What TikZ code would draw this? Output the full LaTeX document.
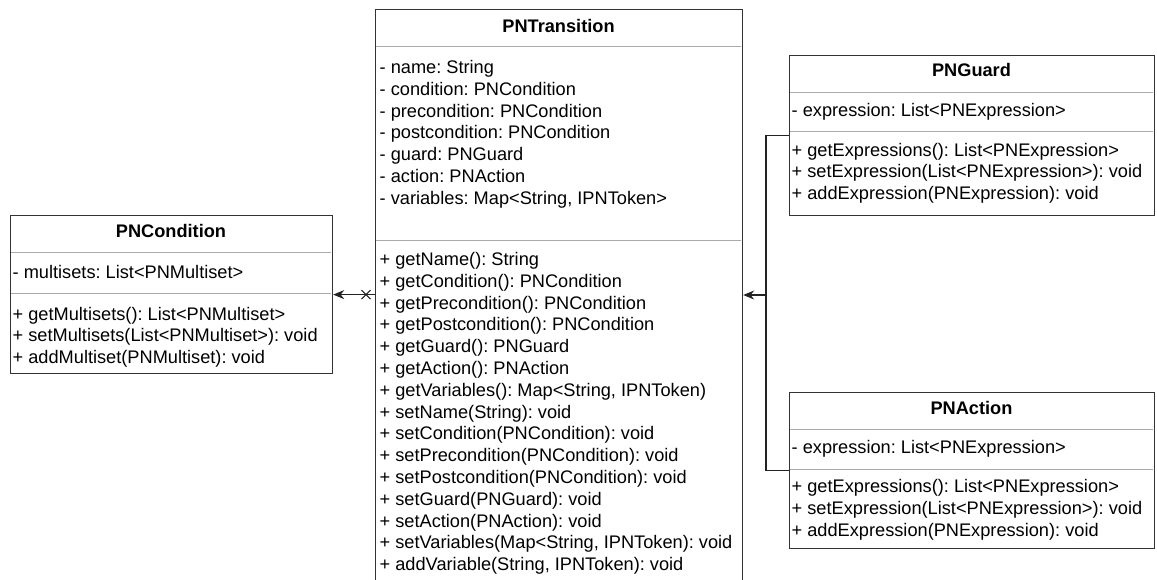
\documentclass[tikz,border=0pt]{standalone}
\usepackage{fontspec}
\setmainfont{Liberation Sans}
\usetikzlibrary{arrows.meta,calc}
\frenchspacing
\definecolor{boxc}{HTML}{333333}
\definecolor{sepc}{HTML}{AAAAAA}
\definecolor{linec}{HTML}{222222}
\tikzset{
  classbox/.style={draw=boxc, line width=1.2pt, fill=white, inner sep=0pt, anchor=north west},
  sepline/.style={draw=sepc, line width=0.9pt},
  ctitle/.style={font=\fontsize{18.2}{21.8}\selectfont\bfseries, anchor=base, inner sep=0pt},
  member/.style={font=\fontsize{18.2}{21.8}\selectfont\frenchspacing, anchor=base west, inner sep=0pt},
  conn/.style={draw=linec, line width=1.2pt},
  tip/.style={-{Stealth[length=11pt,width=9pt]}}
}
\begin{document}
\begin{tikzpicture}[x=1pt,y=-1pt]
\clip (0,0) rectangle (1157,579);
\fill[white] (0,0) rectangle (1157,579);

% PNTransition
\node[classbox, minimum width=367pt, minimum height=580pt] (trans) at (375,9) {};
\draw[sepline] (376,46) -- (741,46);
\draw[sepline] (376,240) -- (741,240);
\node[ctitle] (transT) at (558.5,32) {PNTransition};
\foreach \t [count=\i from 0] in {
  {- name: String},
  {- condition: PNCondition},
  {- precondition: PNCondition},
  {- postcondition: PNCondition},
  {- guard: PNGuard},
  {- action: PNAction},
  {- variables: Map<String, IPNToken>}}
  \node[member] (ta\i) at (379.5,{73.5+21.8*\i}) {\t};
\foreach \t [count=\i from 0] in {
  {+ getName(): String},
  {+ getCondition(): PNCondition},
  {+ getPrecondition(): PNCondition},
  {+ getPostcondition(): PNCondition},
  {+ getGuard(): PNGuard},
  {+ getAction(): PNAction},
  {+ getVariables(): Map<String, IPNToken)},
  {+ setName(String): void},
  {+ setCondition(PNCondition): void},
  {+ setPrecondition(PNCondition): void},
  {+ setPostcondition(PNCondition): void},
  {+ setGuard(PNGuard): void},
  {+ setAction(PNAction): void},
  {+ setVariables(Map<String, IPNToken): void},
  {+ addVariable(String, IPNToken): void}}
  \node[member] (tm\i) at (379.5,{265.5+21.8*\i}) {\t};

% PNCondition
\node[classbox, minimum width=322pt, minimum height=158pt] (cond) at (10,215) {};
\draw[sepline] (11,252) -- (331,252);
\draw[sepline] (11,293) -- (331,293);
\node[ctitle] (condT) at (171,237) {PNCondition};
\node[member] (ca0) at (12.5,278) {- multisets: List<PNMultiset>};
\foreach \t [count=\i from 0] in {
  {+ getMultisets(): List<PNMultiset>},
  {+ setMultisets(List<PNMultiset>): void},
  {+ addMultiset(PNMultiset): void}}
  \node[member] (cm\i) at (12.5,{320+21.8*\i}) {\t};

% PNGuard
\node[classbox, minimum width=365pt, minimum height=160pt] (guard) at (789,55) {};
\draw[sepline] (790,92) -- (1153,92);
\draw[sepline] (790,131) -- (1153,131);
\node[ctitle] (guardT) at (971.5,76) {PNGuard};
\node[member] (ga0) at (791.5,116) {- expression: List<PNExpression>};
\foreach \t [count=\i from 0] in {
  {+ getExpressions(): List<PNExpression>},
  {+ setExpression(List<PNExpression>): void},
  {+ addExpression(PNExpression): void}}
  \node[member] (gm\i) at (791.5,{156+21.8*\i}) {\t};

% PNAction
\node[classbox, minimum width=365pt, minimum height=156pt] (action) at (789,392) {};
\draw[sepline] (790,429) -- (1153,429);
\draw[sepline] (790,469) -- (1153,469);
\node[ctitle] (actionT) at (971.5,414) {PNAction};
\node[member] (aa0) at (791.5,453.5) {- expression: List<PNExpression>};
\foreach \t [count=\i from 0] in {
  {+ getExpressions(): List<PNExpression>},
  {+ setExpression(List<PNExpression>): void},
  {+ addExpression(PNExpression): void}}
  \node[member] (am\i) at (791.5,{492.5+21.8*\i}) {\t};

% connectors
\coordinate (lx) at ($(cond.east -| trans.west)+(-9,0)$);
\draw[conn, tip] (cond.east -| trans.west) -- (cond.east);
\draw[conn, line width=1.1pt] ($(lx)+(-4.5,-4.5)$) -- ($(lx)+(4.5,4.5)$)
                               ($(lx)+(-4.5,4.5)$) -- ($(lx)+(4.5,-4.5)$);

\coordinate (j) at (766,295);
\draw[conn] (guard.west) -| (j) |- (action.west);
\draw[conn, tip] (j) -- (j -| trans.east);
\end{tikzpicture}
\end{document}
